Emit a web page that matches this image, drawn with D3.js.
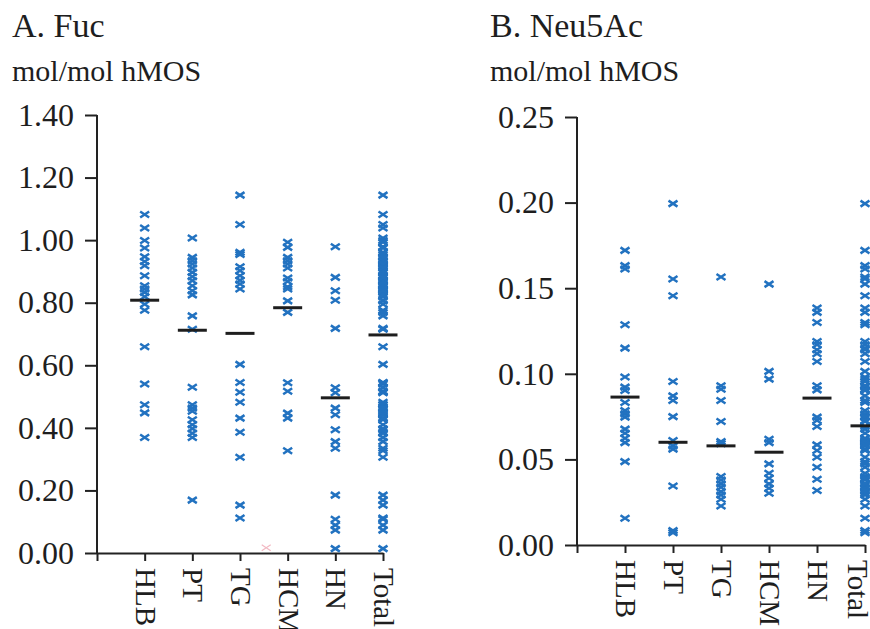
<!DOCTYPE html>
<html>
<head>
    <meta charset="utf-8">
    <style>
        body { margin: 0; background: #fff; }
        svg { display: block; }
        svg text { font-family: "Liberation Serif", "DejaVu Serif", "Times New Roman", Times, serif !important; fill: #1e1e1e; }
        .axis path, .axis line { stroke: #222; stroke-width: 2px; }
        .axis text { font-size: 32px; }
        .pt { fill: none; stroke: #2272c0; stroke-width: 2.5px; }
        .mean { stroke: #1e1e1e; stroke-width: 3px; }
    </style>
</head>
<body>
<div id="chart"></div>
<script src="https://cdn.jsdelivr.net/npm/d3@7/dist/d3.min.js"></script>
<script>

    var categories = ["HLB", "PT", "TG", "HCM", "HN", "Total"];

    // A. Fuc (mol/mol hMOS)
    var fucHLB = [1.082, 1.039, 0.999, 0.975, 0.947, 0.932, 0.918, 0.886, 0.854, 0.844,
        0.833, 0.819, 0.795, 0.776, 0.659, 0.540, 0.474, 0.448, 0.369];
    var fucPT = [1.007, 0.945, 0.934, 0.924, 0.911, 0.897, 0.883, 0.870, 0.854, 0.838,
        0.825, 0.758, 0.715, 0.530, 0.474, 0.463, 0.453, 0.426, 0.410, 0.397, 0.383, 0.369, 0.169];
    var fucTG = [1.144, 1.050, 0.961, 0.954, 0.915, 0.902, 0.886, 0.872, 0.860, 0.844,
        0.603, 0.545, 0.514, 0.482, 0.431, 0.386, 0.306, 0.153, 0.112];
    var fucHCM = [0.993, 0.977, 0.945, 0.934, 0.924, 0.911, 0.879, 0.868, 0.851, 0.844,
        0.806, 0.769, 0.544, 0.517, 0.447, 0.431, 0.327];
    var fucHN = [0.979, 0.881, 0.838, 0.808, 0.718, 0.528, 0.512, 0.463, 0.442, 0.394,
        0.356, 0.335, 0.185, 0.108, 0.089, 0.073, 0.014];
    var fucMeans = [0.808, 0.712, 0.702, 0.784, 0.496, 0.697];
    var fucTicks = [0, 0.2, 0.4, 0.6, 0.8, 1.0, 1.2, 1.4];
    // faint stray marker near the HCM baseline
    var fucStray = [{pos: 3.55, value: 0.017}];

    // B. Neu5Ac (mol/mol hMOS)
    var neuHLB = [0.1721, 0.1632, 0.1612, 0.1287, 0.1150, 0.0981, 0.0922, 0.0902, 0.0832,
        0.0785, 0.0766, 0.0747, 0.0677, 0.0653, 0.0624, 0.0598, 0.0487, 0.0156];
    var neuPT = [0.1994, 0.1554, 0.1456, 0.0955, 0.0871, 0.0844, 0.0750, 0.0610, 0.0579,
        0.0560, 0.0345, 0.0084, 0.0072];
    var neuTG = [0.1565, 0.0930, 0.0910, 0.0844, 0.0721, 0.0604, 0.0591, 0.0400, 0.0380,
        0.0357, 0.0337, 0.0312, 0.0292, 0.0267, 0.0228];
    var neuHCM = [0.1524, 0.1014, 0.0969, 0.0618, 0.0598, 0.0474, 0.0419, 0.0390, 0.0357,
        0.0331, 0.0302];
    var neuHN = [0.1384, 0.1359, 0.1300, 0.1189, 0.1170, 0.1140, 0.1117, 0.1072, 0.0930,
        0.0906, 0.0747, 0.0727, 0.0692, 0.0585, 0.0552, 0.0513, 0.0454, 0.0384, 0.0318];
    var neuMeans = [0.0864, 0.0600, 0.0579, 0.0542, 0.0858, 0.0696];
    var neuTicks = [0, 0.05, 0.10, 0.15, 0.20, 0.25];

    var width = 870, height = 629;
    var serif = "Liberation Serif";

    var svg = d3.select("#chart").append("svg")
        .attr("width", width)
        .attr("height", height)
        .attr("font-family", serif);

    var cross = "M-4.5,-3L4.5,3M-4.5,3L4.5,-3";

    function drawPanel(opt) {
        var g = svg.append("g");

        var x = d3.scaleLinear().domain([0, 6]).range([opt.left, opt.right]);
        var y = d3.scaleLinear().domain([0, opt.max]).range([opt.bottom, opt.top]);

        g.append("text")
            .attr("x", opt.titleX).attr("y", 37)
            .style("font-size", "34px")
            .text(opt.title);
        g.append("text")
            .attr("x", opt.titleX).attr("y", 81)
            .style("font-size", "30px")
            .text("mol/mol hMOS");

        // y axis
        var yAxis = g.append("g")
            .attr("class", "axis")
            .attr("transform", "translate(" + opt.left + ",0)")
            .call(d3.axisLeft(y).tickValues(opt.ticks).tickFormat(d3.format(".2f"))
                .tickSize(12).tickSizeOuter(0).tickPadding(11));
        yAxis.attr("font-family", serif);
        yAxis.select(".domain").attr("d", "M0," + opt.top + "V" + opt.bottom);

        // x axis
        var xAxis = g.append("g")
            .attr("class", "axis")
            .attr("transform", "translate(0," + opt.bottom + ")")
            .call(d3.axisBottom(x).tickValues(d3.range(0, 7))
                .tickFormat(function (i) { return i === 0 ? "" : categories[i - 1]; })
                .tickSize(8).tickSizeOuter(0));
        xAxis.attr("font-family", serif);
        xAxis.selectAll("text")
            .style("font-size", "29px")
            .attr("text-anchor", "start")
            .attr("dy", "0.33em")
            .attr("x", 15)
            .attr("y", function (i) { return i === 6 ? opt.lastShift : 0; })
            .attr("transform", "rotate(90)");

        // points
        var all = [];
        opt.groups.forEach(function (vals, i) {
            vals.forEach(function (v) {
                all.push({pos: i + 1, value: v});
                all.push({pos: 6, value: v});
            });
        });

        (opt.stray || []).forEach(function (d) {
            g.append("path")
                .attr("d", cross)
                .attr("transform", "translate(" + x(d.pos) + "," + y(d.value) + ")")
                .style("fill", "none")
                .style("stroke", "#f2b8c2")
                .style("stroke-width", "1.2px");
        });

        g.selectAll("path.pt")
            .data(all)
            .enter().append("path")
            .attr("class", "pt")
            .attr("d", cross)
            .attr("transform", function (d) {
                return "translate(" + x(d.pos) + "," + y(d.value) + ")";
            });

        g.selectAll("line.mean")
            .data(opt.means)
            .enter().append("line")
            .attr("class", "mean")
            .attr("x1", function (d, i) { return x(i + 1) - 14.5; })
            .attr("x2", function (d, i) { return x(i + 1) + 14.5; })
            .attr("y1", function (d) { return y(d); })
            .attr("y2", function (d) { return y(d); });
    }

    drawPanel({
        title: "A. Fuc", titleX: 12,
        left: 97, right: 383, top: 115, bottom: 553,
        max: 1.4, ticks: fucTicks,
        groups: [fucHLB, fucPT, fucTG, fucHCM, fucHN],
        means: fucMeans,
        stray: fucStray,
        lastShift: 0
    });

    drawPanel({
        title: "B. Neu5Ac", titleX: 490,
        left: 577, right: 865, top: 117, bottom: 545,
        max: 0.25, ticks: neuTicks,
        groups: [neuHLB, neuPT, neuTG, neuHCM, neuHN],
        means: neuMeans,
        lastShift: 8
    });

</script>
</body>
</html>
